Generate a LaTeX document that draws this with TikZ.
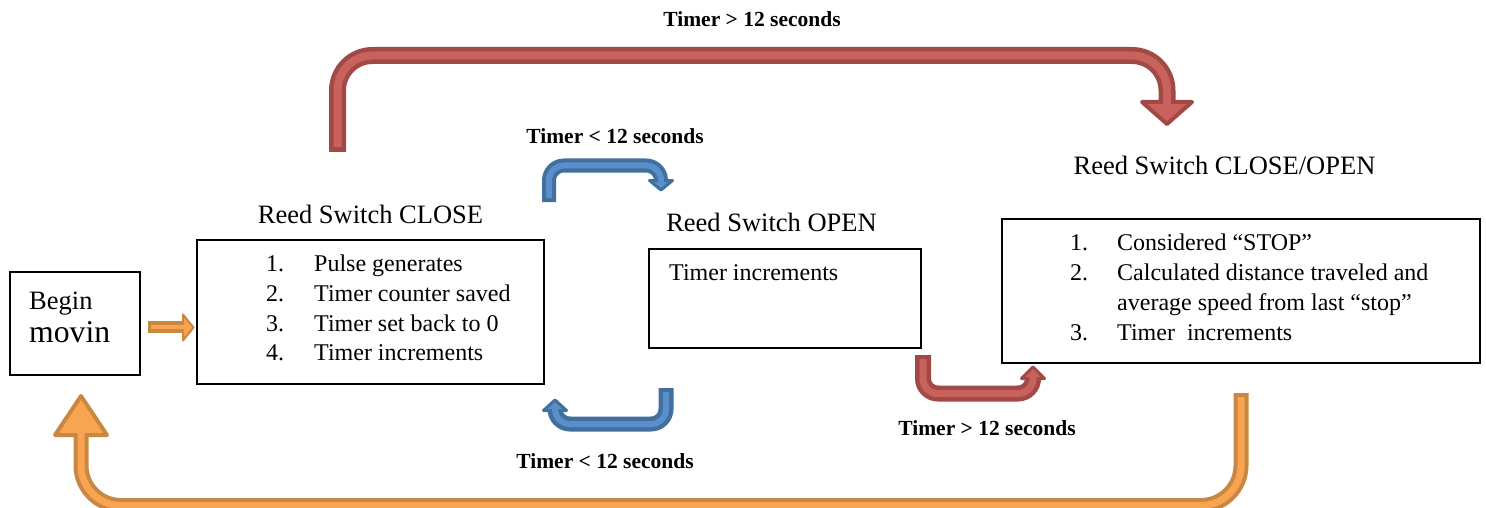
\documentclass[tikz,border=0pt]{standalone}
\usepackage{fontspec}
\setmainfont{Liberation Serif}
\definecolor{redL}{HTML}{C9625C}
\definecolor{redD}{HTML}{A14A45}
\definecolor{bluL}{HTML}{5A8FCB}
\definecolor{bluD}{HTML}{41709F}
\definecolor{oraL}{HTML}{F8A451}
\definecolor{oraD}{HTML}{C98841}
\newcommand{\bodyfnt}{\fontsize{24}{28}\selectfont}
\newcommand{\headfnt}{\fontsize{26.5}{30}\selectfont}
\newcommand{\lblfnt}{\fontsize{21.5}{25}\selectfont\bfseries}
\tikzset{
  box/.style={draw=black, line width=1.2pt, inner sep=0pt},
  txt/.style={inner sep=0pt, anchor=base west, font=\bodyfnt},
  head/.style={inner sep=0pt, anchor=base, font=\headfnt},
  lbl/.style={inner sep=0pt, anchor=base, font=\lblfnt},
}
\begin{document}
\begin{tikzpicture}[x=1pt,y=-1pt]
\useasboundingbox (0,0) rectangle (1486,508);
\clip (0,0) rectangle (1486,508);
% boxes
\node[box, minimum width=130pt, minimum height=103pt] (begin) at (75,323.5) {};
\node[box, minimum width=347pt, minimum height=144pt] (close) at (370.5,312) {};
\node[box, minimum width=272pt, minimum height=99pt] (open) at (785,298.5) {};
\node[box, minimum width=478pt, minimum height=144pt] (both) at (1241,291) {};
% box texts
\node[txt, font=\fontsize{26.5}{30}\selectfont] (b1) at (29,309) {Begin};
\node[txt, font=\fontsize{31.7}{36}\selectfont] (b2) at (29,342) {movin};
\node[head] (hclose) at (370.5,223) {Reed Switch CLOSE};
\node[head] (hopen) at (771.5,231) {Reed Switch OPEN};
\node[head] (hboth) at (1224.5,175) {Reed Switch CLOSE/OPEN};
\node[txt] (c1n) at (266,271.5) {1.};
\node[txt] (c1) at (314,271.5) {Pulse generates};
\node[txt] (c2n) at (266,301.3) {2.};
\node[txt] (c2) at (314,301.3) {Timer counter saved};
\node[txt] (c3n) at (266,331.1) {3.};
\node[txt] (c3) at (314,331.1) {Timer set back to 0};
\node[txt] (c4n) at (266,360.9) {4.};
\node[txt] (c4) at (314,360.9) {Timer increments};
\node[txt] (o1) at (669,280) {Timer increments};
\node[txt] (s1n) at (1070,250) {1.};
\node[txt] (s1) at (1117,250) {Considered “STOP”};
\node[txt] (s2n) at (1070,280) {2.};
\node[txt] (s2) at (1117,280) {Calculated distance traveled and};
\node[txt] (s2b) at (1117,310) {average speed from last “stop”};
\node[txt] (s3n) at (1070,340) {3.};
\node[txt] (s3) at (1117,340) {Timer\ \ increments};
% labels
\node[lbl] (l1) at (752,27) {Timer > 12 seconds};
\node[lbl] (l2) at (615,143) {Timer < 12 seconds};
\node[lbl] (l3) at (605,468) {Timer < 12 seconds};
\node[lbl] (l4) at (987,435) {Timer > 12 seconds};
% ---- red top arrow
\coordinate (rtA) at (337.5,152);
\coordinate (rtB) at (337.5,55.5);
\coordinate (rtC) at (1167,55.5);
\draw[redD, line width=17pt, rounded corners=35pt] (rtA) -- (rtB) -- (rtC) -- (1167,103);
\filldraw[fill=redL, draw=redD, line width=4pt, line join=round] (1142,102) -- (1192,102) -- (1167,124) -- cycle;
\draw[redL, line width=8pt, rounded corners=35pt] (337.5,147) -- (rtB) -- (rtC) -- (1167,105);
% ---- blue upper arrow
\coordinate (buA) at (549,202);
\coordinate (buB) at (549,165.5);
\coordinate (buC) at (661,165.5);
\draw[bluD, line width=14pt, rounded corners=15pt] (buA) -- (buB) -- (buC) -- (661,181);
\filldraw[fill=bluL, draw=bluD, line width=3pt, line join=round] (649.5,180.5) -- (672.5,180.5) -- (661,190) -- cycle;
\draw[bluL, line width=6pt, rounded corners=15pt] (549,198) -- (buB) -- (buC) -- (661,183);
% ---- blue lower arrow
\coordinate (blA) at (666,388);
\coordinate (blB) at (666,424);
\coordinate (blC) at (555,424);
\draw[bluD, line width=15pt, rounded corners=15pt] (blA) -- (blB) -- (blC) -- (555,410);
\filldraw[fill=bluL, draw=bluD, line width=3pt, line join=round] (543.5,410.5) -- (566.5,410.5) -- (555,400) -- cycle;
\draw[bluL, line width=6pt, rounded corners=15pt] (666,392) -- (blB) -- (blC) -- (555,408);
% ---- red lower arrow
\coordinate (rlA) at (923,355);
\coordinate (rlB) at (923,393.5);
\coordinate (rlC) at (1033,393.5);
\draw[redD, line width=16pt, rounded corners=15pt] (rlA) -- (rlB) -- (rlC) -- (1033,378);
\filldraw[fill=redL, draw=redD, line width=3pt, line join=round] (1021.5,378.5) -- (1044.5,378.5) -- (1033,367) -- cycle;
\draw[redL, line width=7pt, rounded corners=15pt] (923,359) -- (rlB) -- (rlC) -- (1033,376);
% ---- orange big arrow
\coordinate (obA) at (1241,393);
\coordinate (obB) at (1241,505.5);
\coordinate (obC) at (81,505.5);
\draw[oraD, line width=15pt, rounded corners=40pt] (obA) -- (obB) -- (obC) -- (81,435);
\filldraw[fill=oraL, draw=oraD, line width=4pt, line join=round] (55,435) -- (107,435) -- (81,396) -- cycle;
\draw[oraL, line width=7pt, rounded corners=40pt] (1241,397) -- (obB) -- (obC) -- (81,433);
% ---- small orange arrow
\coordinate (osA) at (148,327);
\draw[oraD, line width=12pt] (osA) -- (184,327);
\filldraw[fill=oraL, draw=oraD, line width=2pt, line join=round] (183,314.5) -- (193.5,327.5) -- (183,340.5) -- cycle;
\draw[oraL, line width=4pt] (151,327) -- (186,327);
\end{tikzpicture}
\end{document}
